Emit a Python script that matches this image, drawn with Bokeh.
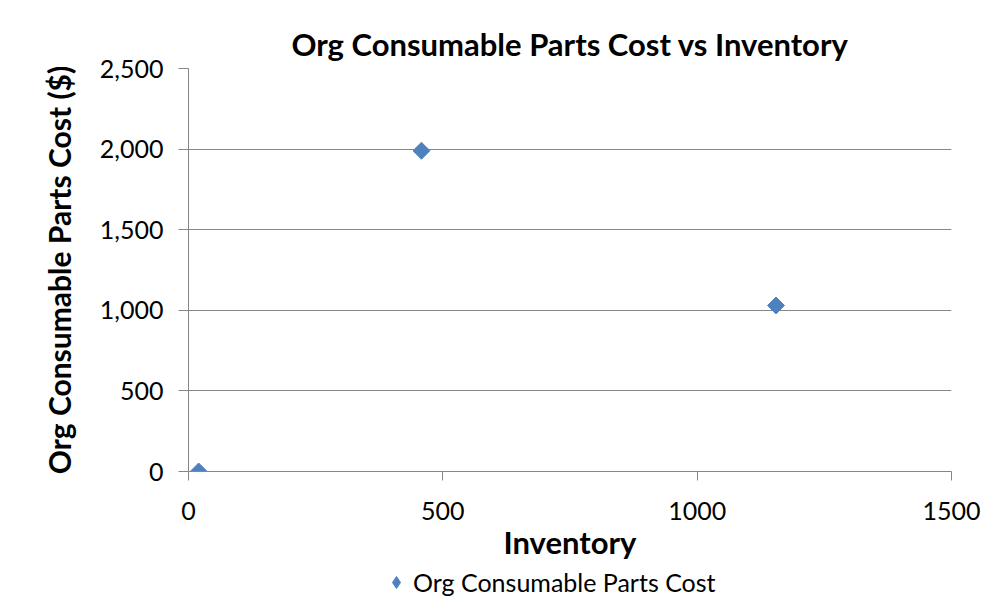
from bokeh.plotting import figure
from bokeh.models import (Range1d, NumeralTickFormatter, FixedTicker, Legend, LegendItem)
from bokeh.layouts import column
from bokeh.embed import file_html
from bokeh.resources import INLINE
import math

# ---- data ----
inventory = [20, 458, 1155]
parts_cost = [0, 1990, 1030]
series_name = "Org Consumable Parts Cost"
x_ticks = [0, 500, 1000, 1500]
y_ticks = [0, 500, 1000, 1500, 2000, 2500]

FONT = "Lato"
GRAY = "#868686"
BLUE = "#4F81BD"

p = figure(width=992, height=567, output_backend="svg", toolbar_location=None,
           x_range=Range1d(0, 1500), y_range=Range1d(0, 2500),
           min_border_left=188, min_border_right=41, min_border_top=68,
           min_border_bottom=96)

p.title.text = "Org Consumable Parts Cost vs Inventory"
p.title.align = "center"
p.title.text_font = FONT
p.title.text_font_size = "31px"
p.title.text_font_style = "bold"
p.title.text_color = "#000000"
p.title.offset = 20
p.title.standoff = 11

p.outline_line_color = None
p.background_fill_color = "white"
p.border_fill_color = "white"

# grid
p.xgrid.grid_line_color = None
p.ygrid.grid_line_color = GRAY
p.ygrid.grid_line_width = 1
p.ygrid.ticker = FixedTicker(ticks=y_ticks)

# x axis
xa = p.xaxis[0]
xa.ticker = FixedTicker(ticks=x_ticks)
xa.minor_tick_line_color = None
xa.major_tick_out = 9
xa.major_tick_in = 0
xa.axis_line_color = GRAY
xa.major_tick_line_color = GRAY
xa.major_label_text_font = FONT
xa.major_label_text_font_size = "25px"
xa.major_label_text_color = "#000000"
xa.major_label_standoff = 21
xa.axis_label = "Inventory"
xa.axis_label_text_font = FONT
xa.axis_label_text_font_size = "31px"
xa.axis_label_text_font_style = "bold"
xa.axis_label_text_color = "#000000"
xa.axis_label_standoff = 0

# y axis
ya = p.yaxis[0]
ya.ticker = FixedTicker(ticks=y_ticks)
ya.formatter = NumeralTickFormatter(format="0,0")
ya.minor_tick_line_color = None
ya.major_tick_out = 10
ya.major_tick_in = 0
ya.axis_line_color = GRAY
ya.major_tick_line_color = GRAY
ya.major_label_text_font = FONT
ya.major_label_text_font_size = "25px"
ya.major_label_text_color = "#000000"
ya.major_label_standoff = 15
ya.axis_label = "Org Consumable Parts Cost ($)"
ya.axis_label_text_font = FONT
ya.axis_label_text_font_size = "30px"
ya.axis_label_text_font_style = "bold"
ya.axis_label_text_color = "#000000"
ya.axis_label_standoff = 20

p.scatter(inventory, parts_cost, marker="square", size=12, angle=math.pi / 4,
          fill_color=BLUE, line_color=BLUE)

# ---- legend strip below the chart (its own renderer lies outside its ranges) ----
leg = figure(width=992, height=30, output_backend="svg", toolbar_location=None,
             x_range=Range1d(-3000, -2000), y_range=Range1d(-3000, -2000),
             x_axis_type=None, y_axis_type=None, min_border=0)
leg.outline_line_color = None
leg.xgrid.grid_line_color = None
leg.ygrid.grid_line_color = None
leg.background_fill_color = "white"
leg.border_fill_color = "white"
lr = leg.scatter(inventory, parts_cost, marker="diamond", size=16,
                 fill_color=BLUE, line_color=BLUE)
legend = Legend(items=[LegendItem(label=series_name, renderers=[lr])],
                location=(193, 0), orientation="horizontal",
                label_text_font=FONT, label_text_font_size="25px",
                label_text_color="#000000", border_line_color=None,
                background_fill_alpha=0, glyph_width=30, glyph_height=30,
                label_height=30, label_standoff=2,
                padding=0, margin=0)
leg.add_layout(legend, "center")

layout = column(p, leg, spacing=0)
open("out.html", "w").write(file_html(layout, INLINE))
